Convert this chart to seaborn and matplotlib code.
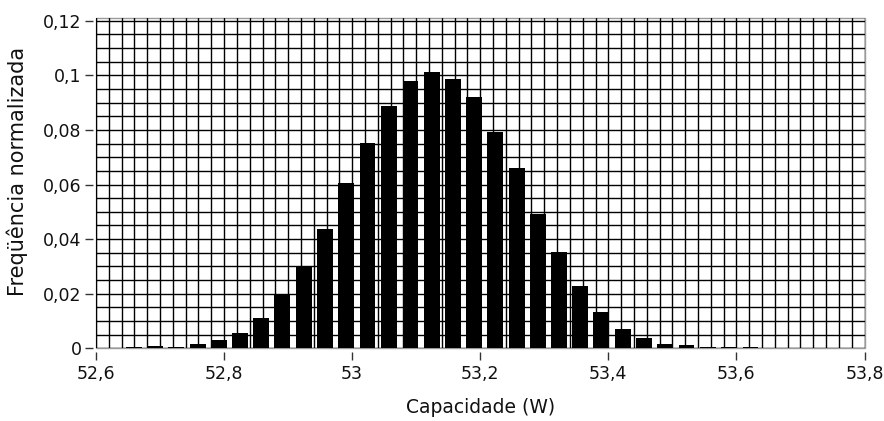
import matplotlib
matplotlib.use("Agg")
import matplotlib.pyplot as plt
import seaborn as sns
import pandas as pd
from matplotlib.ticker import MultipleLocator, FuncFormatter

# Bin centres (W) and normalised frequencies
bin_centers = [52.659, 52.692, 52.725, 52.759, 52.792, 52.825, 52.858, 52.891,
               52.925, 52.958, 52.991, 53.024, 53.057, 53.091, 53.124, 53.157,
               53.190, 53.223, 53.257, 53.290, 53.323, 53.356, 53.389, 53.423,
               53.456, 53.489, 53.522, 53.555, 53.589, 53.622]
frequencies = [0.0005, 0.0007, 0.0006, 0.0014, 0.0031, 0.0057, 0.0112, 0.0196,
               0.0297, 0.0437, 0.0606, 0.0753, 0.0886, 0.0979, 0.1013, 0.0985,
               0.0919, 0.0791, 0.0662, 0.0492, 0.0353, 0.0227, 0.0132, 0.0072,
               0.0039, 0.0017, 0.0012, 0.0006, 0.0005, 0.0006]
x_label = "Capacidade (W)"
y_label = "Freqüência normalizada"

df = pd.DataFrame({"x": bin_centers, "y": frequencies})

sns.set_theme(style="white")
plt.rcParams["font.family"] = ["DejaVu Sans"]

W, H = 884, 421
fig = plt.figure(figsize=(W / 100, H / 100), dpi=100)
left, right, top, bottom = 96.0, 864.5, 18.3, 348.3
ax = fig.add_axes([left / W, 1 - bottom / H, (right - left) / W, (bottom - top) / H])

sns.barplot(data=df, x="x", y="y", native_scale=True, width=0.75,
            color="black", saturation=1, edgecolor="black", linewidth=0,
            ax=ax, zorder=4)

ax.set_xlim(52.6, 53.8)
ax.set_ylim(0, 0.1209)
ax.xaxis.set_major_locator(MultipleLocator(0.2))
ax.xaxis.set_minor_locator(MultipleLocator(0.02))
ax.yaxis.set_major_locator(MultipleLocator(0.02))
ax.yaxis.set_minor_locator(MultipleLocator(0.005))

fmt = FuncFormatter(lambda v, p: ("%g" % round(v, 4)).replace(".", ","))
ax.xaxis.set_major_formatter(fmt)
ax.yaxis.set_major_formatter(fmt)

ax.set_axisbelow(True)
ax.grid(which="both", color="black", linewidth=1.0, zorder=1)

for s in ax.spines.values():
    s.set_position(("outward", 2.5))
    s.set_color("none")
ax.patch.set_edgecolor("#9a9a9a")
ax.patch.set_linewidth(1.0)

txt = "#111111"
ax.tick_params(axis="both", which="major", direction="out", length=5.8,
               width=1.0, color="#333333", labelsize=12.5,
               labelcolor=txt, bottom=True, left=True)
ax.tick_params(axis="x", which="major", pad=3.5)
ax.tick_params(axis="y", which="major", pad=2.0)
ax.tick_params(axis="both", which="minor", length=0)

ax.set_xlabel(x_label, fontsize=13.5, color=txt, labelpad=11)
ax.set_ylabel(y_label, fontsize=15, color=txt)
ax.yaxis.set_label_coords(-0.088, 0.536)

fig.savefig("out.png", dpi=100)
